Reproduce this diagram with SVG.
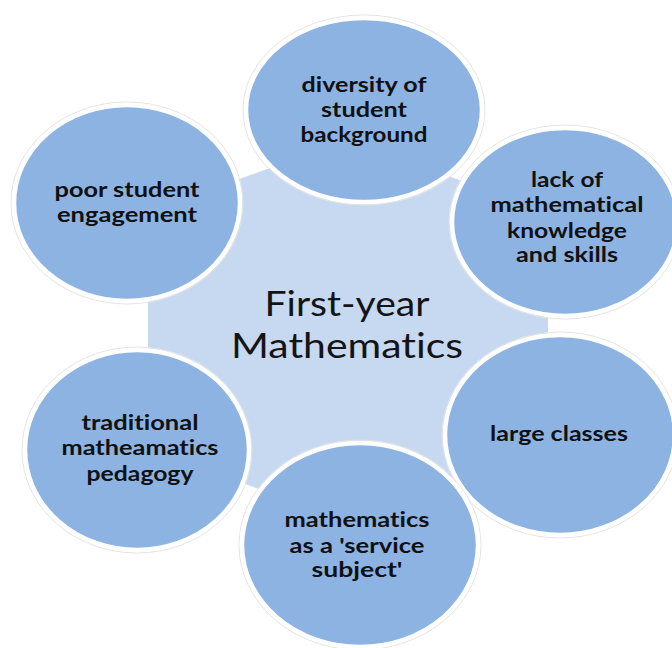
<svg xmlns="http://www.w3.org/2000/svg" width="672" height="648" viewBox="0 0 672 648">
  <style>
    .bg { fill: #ffffff; }
    .hub { fill: #c6d9f1; }
    .halo { fill: none; stroke: #e4e4e4; stroke-width: 1; }
    .bubble { fill: #8db3e2; stroke: #ffffff; stroke-width: 4.5; }
    text { font-variant-ligatures: none; font-feature-settings: "liga" 0, "clig" 0; }
    .label { font-family: Lato, "Liberation Sans", sans-serif; font-weight: bold; font-size: 20px; fill: #111111; text-anchor: middle; }
    .title { font-family: Lato, "Liberation Sans", sans-serif; font-weight: normal; font-size: 35px; fill: #141414; text-anchor: middle; }
  </style>

  <rect class="bg" x="0" y="0" width="672" height="648"/>

  <!-- central hub -->
  <g id="hub">
    <polygon class="hub" points="348,140 548,212 548,448 348,522 148,448 148,212"/>
    <text class="title" x="347" y="316" textLength="165" lengthAdjust="spacingAndGlyphs">First-year</text>
    <text class="title" x="347" y="358" textLength="232" lengthAdjust="spacingAndGlyphs">Mathematics</text>
  </g>

  <!-- no connectors: bubbles sit directly on the hub -->
  <g id="connectors"/>

  <g id="diversity">
    <ellipse class="halo" cx="364" cy="110" rx="121" ry="95"/>
    <ellipse class="bubble" cx="364" cy="110" rx="118" ry="92"/>
    <text class="label" x="364" y="92" textLength="125" lengthAdjust="spacingAndGlyphs">diversity of</text>
    <text class="label" x="364" y="117" textLength="86" lengthAdjust="spacingAndGlyphs">student</text>
    <text class="label" x="364" y="142" textLength="127" lengthAdjust="spacingAndGlyphs">background</text>
  </g>

  <g id="engagement">
    <ellipse class="halo" cx="127" cy="203" rx="116" ry="101"/>
    <ellipse class="bubble" cx="127" cy="203" rx="113" ry="98"/>
    <text class="label" x="127" y="197" textLength="145" lengthAdjust="spacingAndGlyphs">poor student</text>
    <text class="label" x="127" y="222" textLength="140" lengthAdjust="spacingAndGlyphs">engagement</text>
  </g>

  <g id="knowledge">
    <ellipse class="halo" cx="565" cy="222" rx="116" ry="97"/>
    <ellipse class="bubble" cx="565" cy="222" rx="113" ry="94"/>
    <text class="label" x="567" y="187" textLength="72" lengthAdjust="spacingAndGlyphs">lack of</text>
    <text class="label" x="567" y="212" textLength="153" lengthAdjust="spacingAndGlyphs">mathematical</text>
    <text class="label" x="567" y="238" textLength="120" lengthAdjust="spacingAndGlyphs">knowledge</text>
    <text class="label" x="567" y="262" textLength="102" lengthAdjust="spacingAndGlyphs">and skills</text>
  </g>

  <g id="classes">
    <ellipse class="halo" cx="560" cy="435" rx="118" ry="103"/>
    <ellipse class="bubble" cx="560" cy="435" rx="115" ry="100"/>
    <text class="label" x="559" y="441" textLength="138" lengthAdjust="spacingAndGlyphs">large classes</text>
  </g>

  <g id="service">
    <ellipse class="halo" cx="360" cy="545" rx="121" ry="105"/>
    <ellipse class="bubble" cx="360" cy="545" rx="118" ry="102"/>
    <text class="label" x="357" y="527" textLength="145" lengthAdjust="spacingAndGlyphs">mathematics</text>
    <text class="label" x="357" y="553" textLength="135" lengthAdjust="spacingAndGlyphs">as a 'service</text>
    <text class="label" x="357" y="577" textLength="91" lengthAdjust="spacingAndGlyphs">subject'</text>
  </g>

  <g id="pedagogy">
    <ellipse class="halo" cx="137" cy="450" rx="115" ry="103"/>
    <ellipse class="bubble" cx="137" cy="450" rx="112" ry="100"/>
    <text class="label" x="140" y="430" textLength="117" lengthAdjust="spacingAndGlyphs">traditional</text>
    <text class="label" x="140" y="455" textLength="157" lengthAdjust="spacingAndGlyphs">matheamatics</text>
    <text class="label" x="140" y="481" textLength="107" lengthAdjust="spacingAndGlyphs">pedagogy</text>
  </g>
</svg>
